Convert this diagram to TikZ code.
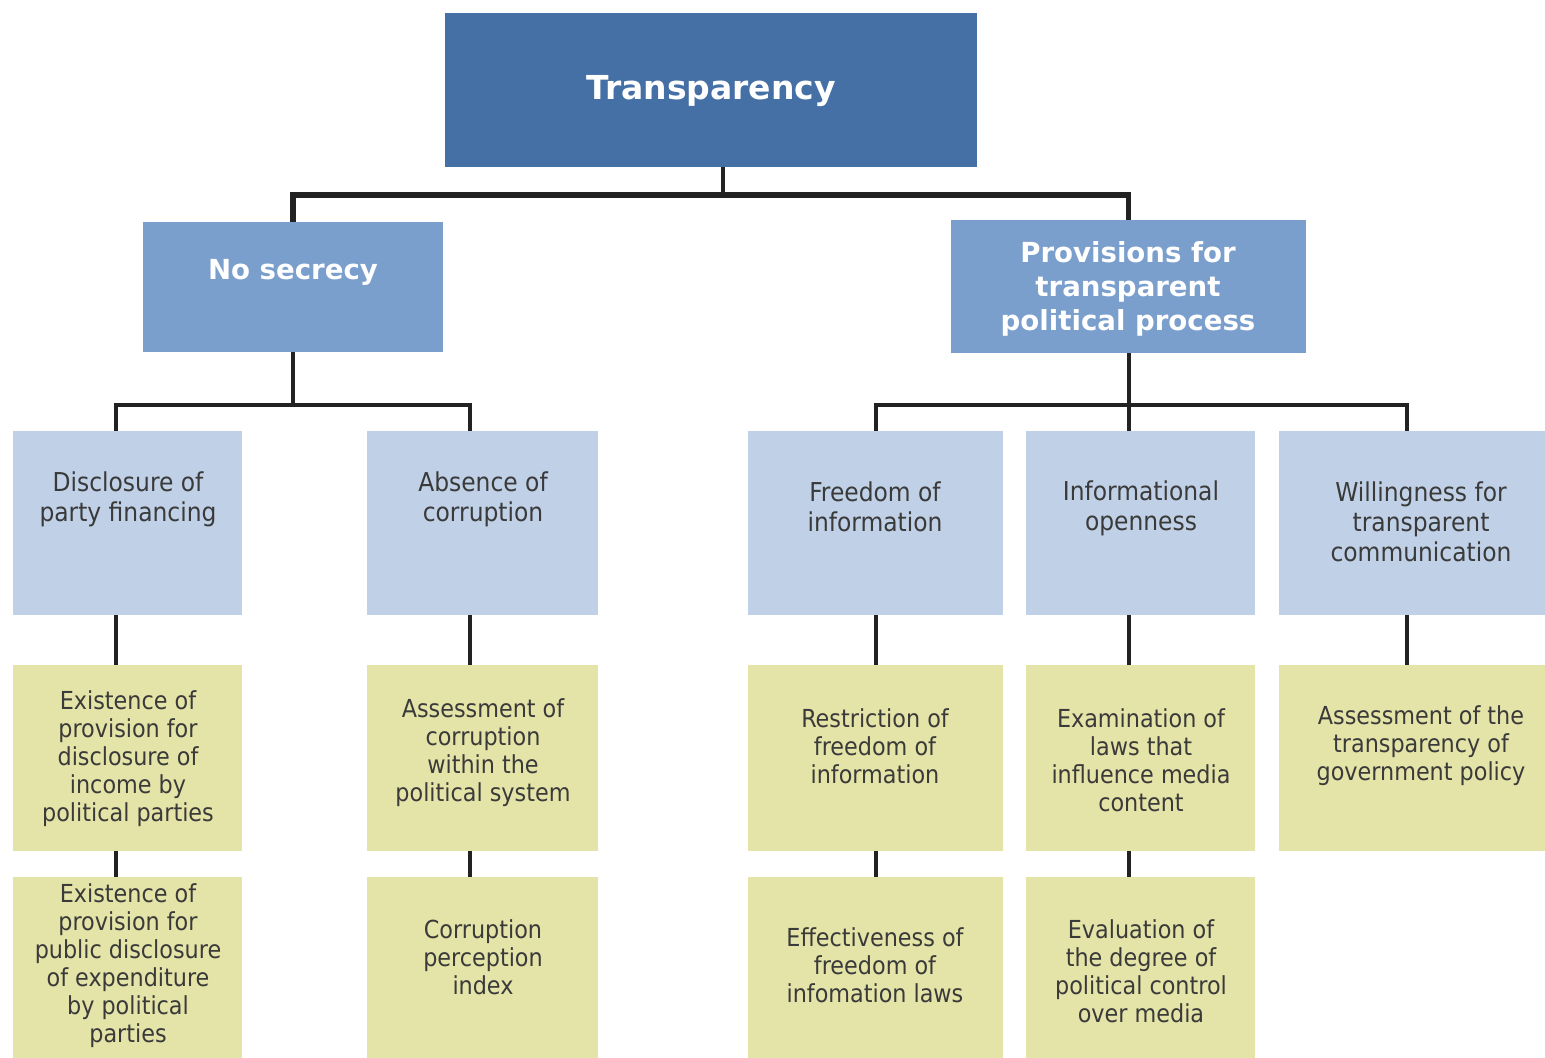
\documentclass[tikz,border=0pt]{standalone}
\usepackage{fontspec}
\setmainfont{DejaVu Sans}
\newfontfamily\condfont{DejaVu Sans Condensed}
\definecolor{cTop}{HTML}{4570A5}
\definecolor{cMid}{HTML}{7B9FCD}
\definecolor{cLight}{HTML}{C0D1E7}
\definecolor{cYel}{HTML}{E4E4A8}
\definecolor{cLine}{HTML}{222222}
\definecolor{cTxt}{HTML}{3A3A3A}
\newcommand\mybox[6]{\node[#6, anchor=north west, minimum width={(#4-#2)*0.5pt}, minimum height={(#5-#3)*0.5pt}] (#1) at (#2,#3) {};}
\tikzset{
  boxbase/.style={rectangle, inner sep=0pt, outer sep=0pt, draw=none},
  topbox/.style={boxbase, fill=cTop},
  midbox/.style={boxbase, fill=cMid},
  lightbox/.style={boxbase, fill=cLight},
  yelbox/.style={boxbase, fill=cYel},
  toptxt/.style={inner sep=0pt, text=white, font=\fontsize{16.5}{20}\selectfont\bfseries},
  midtxt/.style={inner sep=0pt, align=center, text=white, font=\fontsize{13.8}{17}\selectfont\bfseries},
  ltxt/.style={inner sep=0pt, align=center, text=cTxt, font=\condfont\fontsize{13}{15}\selectfont},
  ytxt/.style={inner sep=0pt, align=center, text=cTxt, font=\condfont\fontsize{12.4}{14}\selectfont},
  conn/.style={draw=cLine, line width=1.6pt},
  busthick/.style={draw=cLine, line width=2.6pt},
}
\begin{document}
\begin{tikzpicture}[x=0.5pt, y=-0.5pt]
\useasboundingbox (0,0) rectangle (1545,1058);
% boxes
\mybox{top}{445}{13}{977}{167}{topbox}
\mybox{ns}{143}{222}{443}{352}{midbox}
\mybox{pp}{951}{220}{1306}{353}{midbox}
\mybox{dis}{13}{431}{242}{615}{lightbox}
\mybox{abs}{367}{431}{598}{615}{lightbox}
\mybox{foi}{748}{431}{1003}{615}{lightbox}
\mybox{inf}{1026}{431}{1255}{615}{lightbox}
\mybox{wil}{1279}{431}{1545}{615}{lightbox}
\mybox{ya}{13}{665}{242}{851}{yelbox}
\mybox{yb}{367}{665}{598}{851}{yelbox}
\mybox{yc}{748}{665}{1003}{851}{yelbox}
\mybox{yd}{1026}{665}{1255}{851}{yelbox}
\mybox{ye}{1279}{665}{1545}{851}{yelbox}
\mybox{za}{13}{877}{242}{1058}{yelbox}
\mybox{zb}{367}{877}{598}{1058}{yelbox}
\mybox{zc}{748}{877}{1003}{1058}{yelbox}
\mybox{zd}{1026}{877}{1255}{1058}{yelbox}
% texts
\node[toptxt] (ttop) at (711,91) {Transparency};
\node[midtxt] (tns) at (293,272) {No secrecy};
\node[midtxt] (tpp) at (1128,289) {Provisions for\\transparent\\political process};
\node[ltxt] (tdis) at (128,499) {Disclosure of\\party financing};
\node[ltxt] (tabs) at (483,499) {Absence of\\corruption};
\node[ltxt] (tfoi) at (875,507) {Freedom of\\information};
\node[ltxt] (tinf) at (1141,508) {Informational\\openness};
\node[ltxt] (twil) at (1421,522) {Willingness for\\transparent\\communication};
\node[ytxt] (tya) at (128,759) {Existence of\\provision for\\disclosure of\\income by\\political parties};
\node[ytxt] (tyb) at (483,753) {Assessment of\\corruption\\within the\\political system};
\node[ytxt] (tyc) at (875,746) {Restriction of\\freedom of\\information};
\node[ytxt] (tyd) at (1141,760) {Examination of\\laws that\\influence media\\content};
\node[ytxt] (tye) at (1421,746) {Assessment of the\\transparency of\\government policy};
\node[ytxt] (tza) at (128,966) {Existence of\\provision for\\public disclosure\\of expenditure\\by political\\parties};
\node[ytxt] (tzb) at (483,957) {Corruption\\perception\\index};
\node[ytxt] (tzc) at (875,965) {Effectiveness of\\freedom of\\infomation laws};
\node[ytxt] (tzd) at (1141,971) {Evaluation of\\the degree of\\political control\\over media};
% junction coordinates
\coordinate (j0) at (723,195);
\coordinate (jns) at (293,405);
\coordinate (jpp) at (1129,405);
\coordinate (xa) at (116,0);
\coordinate (xb) at (470,0);
\coordinate (xc) at (876,0);
\coordinate (xd) at (1129,0);
\coordinate (xe) at (1407,0);
% connectors
\draw[conn] (top.south -| j0) -- (j0);
\draw[busthick] (ns.north) |- (j0) -| (pp.north);
\draw[conn] (ns.south) -- (jns);
\draw[conn] (dis.north -| xa) |- (jns) -| (abs.north -| xb);
\draw[conn] (pp.south -| xd) -- (inf.north -| xd);
\draw[conn] (foi.north -| xc) |- (jpp) -| (wil.north -| xe);
\draw[conn] (dis.south -| xa) -- (ya.north -| xa);
\draw[conn] (abs.south -| xb) -- (yb.north -| xb);
\draw[conn] (foi.south -| xc) -- (yc.north -| xc);
\draw[conn] (inf.south -| xd) -- (yd.north -| xd);
\draw[conn] (wil.south -| xe) -- (ye.north -| xe);
\draw[conn] (ya.south -| xa) -- (za.north -| xa);
\draw[conn] (yb.south -| xb) -- (zb.north -| xb);
\draw[conn] (yc.south -| xc) -- (zc.north -| xc);
\draw[conn] (yd.south -| xd) -- (zd.north -| xd);
\end{tikzpicture}
\end{document}
